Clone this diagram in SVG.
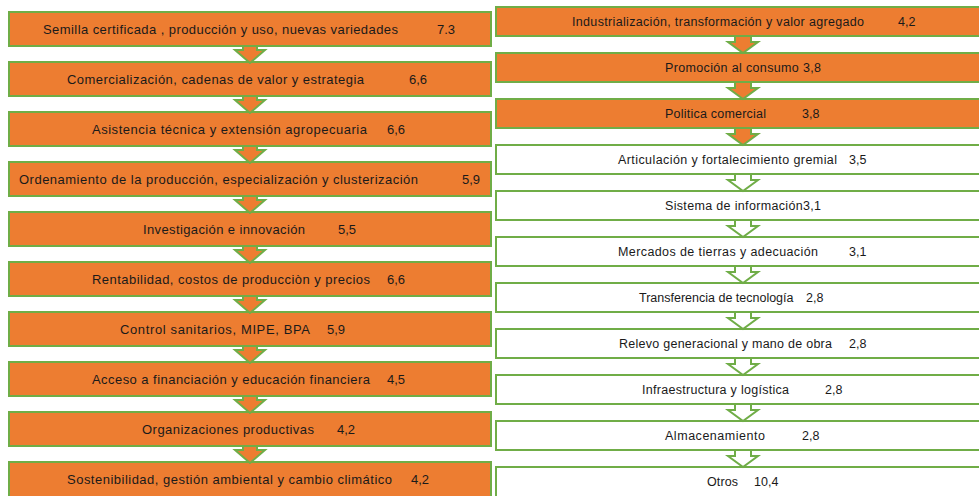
<svg xmlns="http://www.w3.org/2000/svg" width="979" height="496" viewBox="0 0 979 496">
<style>
.o{fill:#ED7D31;stroke:#70AD47;stroke-width:2}
.w{fill:#FFFFFF;stroke:#70AD47;stroke-width:2}
.t{font-family:"Liberation Sans",Arial,sans-serif;font-size:13px;fill:#1a1a1a}
.r{font-family:"Liberation Sans",Arial,sans-serif;font-size:12.5px;fill:#1a1a1a}
</style>
<rect width="979" height="496" fill="#FFFFFF"/>
<g id="left-column">
<g id="n1"><rect class="o" x="9" y="12" width="482" height="34"/><text class="t" x="43" y="34" textLength="355">Semilla certificada , producción y uso, nuevas variedades</text><text class="t" x="437" y="34">7.3</text></g>
<g id="n2"><rect class="o" x="9" y="62" width="482" height="34"/><text class="t" x="67" y="84" textLength="297">Comercialización, cadenas de valor y estrategia</text><text class="t" x="409" y="84">6,6</text></g>
<g id="n3"><rect class="o" x="9" y="112" width="482" height="34"/><text class="t" x="92" y="134" textLength="275">Asistencia técnica y extensión agropecuaria</text><text class="t" x="387" y="134">6,6</text></g>
<g id="n4"><rect class="o" x="9" y="162" width="482" height="34"/><text class="t" x="19" y="184" textLength="399">Ordenamiento de la producción, especialización y clusterización</text><text class="t" x="462" y="184">5,9</text></g>
<g id="n5"><rect class="o" x="9" y="212" width="482" height="34"/><text class="t" x="143" y="234" textLength="162">Investigación e innovación</text><text class="t" x="338" y="234">5,5</text></g>
<g id="n6"><rect class="o" x="9" y="262" width="482" height="34"/><text class="t" x="92" y="284" textLength="278">Rentabilidad,  costos de producciòn y precios</text><text class="t" x="387" y="284">6,6</text></g>
<g id="n7"><rect class="o" x="9" y="312" width="482" height="34"/><text class="t" x="120" y="334" textLength="190">Control  sanitarios, MIPE, BPA</text><text class="t" x="327" y="334">5,9</text></g>
<g id="n8"><rect class="o" x="9" y="362" width="482" height="34"/><text class="t" x="92" y="384" textLength="278">Acceso a financiación y educación financiera</text><text class="t" x="387" y="384">4,5</text></g>
<g id="n9"><rect class="o" x="9" y="412" width="482" height="34"/><text class="t" x="142" y="434" textLength="172">Organizaciones productivas</text><text class="t" x="337" y="434">4,2</text></g>
<g id="n10"><rect class="o" x="9" y="462" width="482" height="36"/><text class="t" x="67" y="484" textLength="325">Sostenibilidad, gestión ambiental y cambio climático</text><text class="t" x="411" y="484">4,2</text></g>
</g>
<g id="right-column">
<g id="m1"><rect class="o" x="496" y="7" width="500" height="29"/><text class="r" x="572" y="26" textLength="292">Industrialización, transformación y valor agregado</text><text class="r" x="898" y="26">4,2</text></g>
<g id="m2"><rect class="o" x="496" y="53" width="500" height="29"/><text class="r" x="665" y="72" textLength="156">Promoción al consumo 3,8</text></g>
<g id="m3"><rect class="o" x="496" y="99" width="500" height="29"/><text class="r" x="665" y="118" textLength="101">Politica comercial</text><text class="r" x="802" y="118">3,8</text></g>
<g id="m4"><rect class="w" x="496" y="145" width="500" height="29"/><text class="r" x="618" y="164" textLength="219">Articulación  y fortalecimiento gremial</text><text class="r" x="849" y="164">3,5</text></g>
<g id="m5"><rect class="w" x="496" y="191" width="500" height="29"/><text class="r" x="665" y="210" textLength="156">Sistema de información3,1</text></g>
<g id="m6"><rect class="w" x="496" y="237" width="500" height="29"/><text class="r" x="618" y="256" textLength="200">Mercados de tierras y  adecuación</text><text class="r" x="849" y="256">3,1</text></g>
<g id="m7"><rect class="w" x="496" y="283" width="500" height="29"/><text class="r" x="639" y="302">Transferencia de tecnología</text><text class="r" x="806" y="302">2,8</text></g>
<g id="m8"><rect class="w" x="496" y="329" width="500" height="29"/><text class="r" x="619" y="348" textLength="213">Relevo generacional y mano de obra</text><text class="r" x="849" y="348">2,8</text></g>
<g id="m9"><rect class="w" x="496" y="375" width="500" height="29"/><text class="r" x="642" y="394" textLength="147">Infraestructura y logística</text><text class="r" x="825" y="394">2,8</text></g>
<g id="m10"><rect class="w" x="496" y="421" width="500" height="29"/><text class="r" x="665" y="440" textLength="100">Almacenamiento</text><text class="r" x="802" y="440">2,8</text></g>
<g id="m11"><rect class="w" x="496" y="467" width="500" height="40"/><text class="r" x="707" y="486" textLength="31">Otros</text><text class="r" x="754" y="486">10,4</text></g>
</g>
<defs>
<polygon id="la" points="-7,0 7,0 7,4 15,4 0,17 -15,4 -7,4"/>
<polygon id="ra" points="-8,0 8,0 8,6 15,6 0,17 -15,6 -8,6"/>
</defs>
<g id="connectors" stroke="#70AD47" stroke-width="2">
<use href="#la" x="250" y="46" fill="#ED7D31"/>
<use href="#la" x="250" y="96" fill="#ED7D31"/>
<use href="#la" x="250" y="146" fill="#ED7D31"/>
<use href="#la" x="250" y="196" fill="#ED7D31"/>
<use href="#la" x="250" y="246" fill="#ED7D31"/>
<use href="#la" x="250" y="296" fill="#ED7D31"/>
<use href="#la" x="250" y="346" fill="#ED7D31"/>
<use href="#la" x="250" y="396" fill="#ED7D31"/>
<use href="#la" x="250" y="446" fill="#ED7D31"/>
<use href="#ra" x="743" y="36" fill="#ED7D31"/>
<use href="#ra" x="743" y="82" fill="#ED7D31"/>
<use href="#ra" x="743" y="128" fill="#ED7D31"/>
<use href="#ra" x="743" y="174" fill="#FFFFFF"/>
<use href="#ra" x="743" y="220" fill="#FFFFFF"/>
<use href="#ra" x="743" y="266" fill="#FFFFFF"/>
<use href="#ra" x="743" y="312" fill="#FFFFFF"/>
<use href="#ra" x="743" y="358" fill="#FFFFFF"/>
<use href="#ra" x="743" y="404" fill="#FFFFFF"/>
<use href="#ra" x="743" y="450" fill="#FFFFFF"/>
</g>
</svg>
